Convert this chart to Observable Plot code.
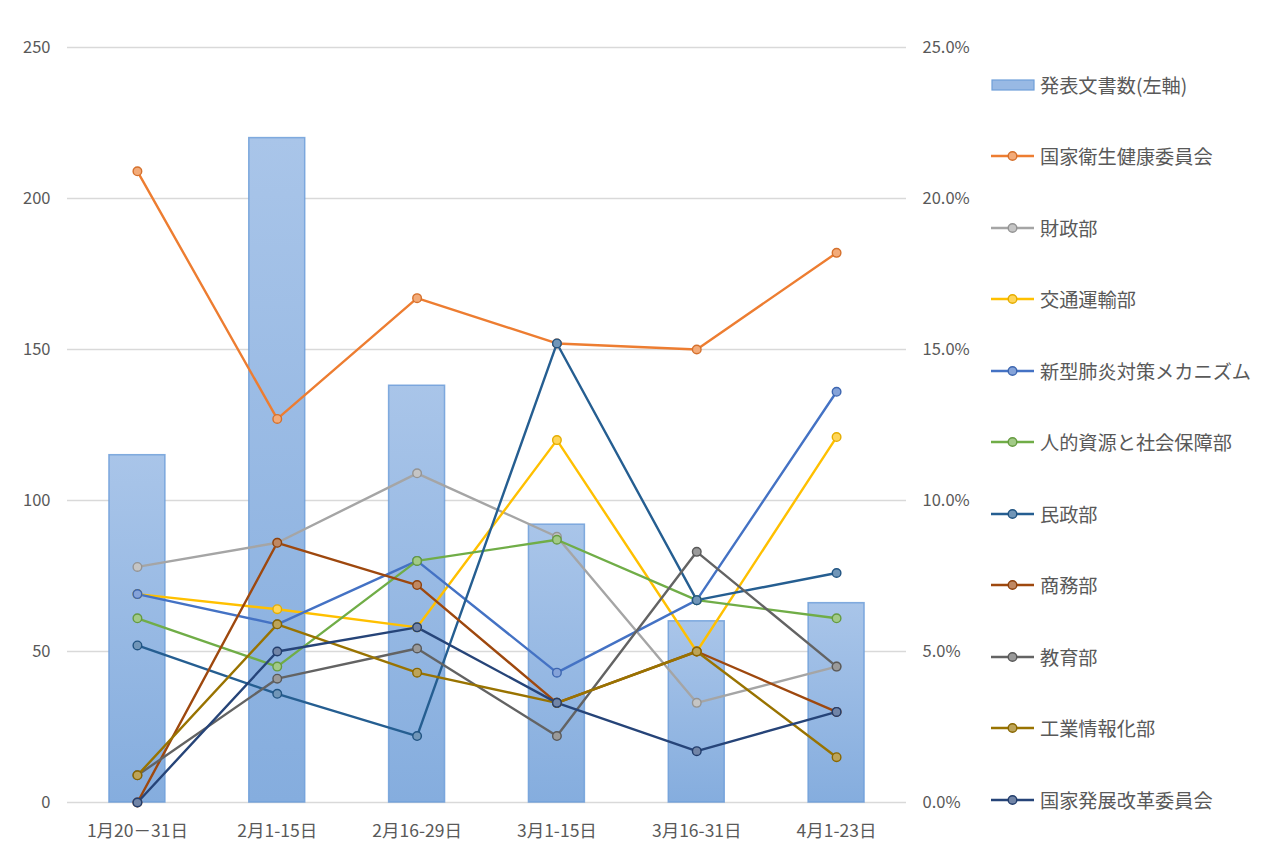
<!DOCTYPE html>
<html>
<head>
<meta charset="utf-8">
<script src="https://cdn.jsdelivr.net/npm/d3@7"></script>
<script src="https://cdn.jsdelivr.net/npm/@observablehq/plot@0.6"></script>
<style>
  html, body { margin: 0; padding: 0; background: #fff; }
  #wrap { position: relative; width: 1275px; height: 856px; font-family: "Noto Sans CJK JP", "Noto Sans", sans-serif; }
  #legend { position: absolute; left: 991px; top: 49px; }
  .item { height: 71.5px; display: flex; align-items: center; color: #595959; font-size: 19.2px; white-space: nowrap; }
  .item svg { margin-right: 5px; flex: none; }
</style>
</head>
<body>
<div id="wrap"><div id="chart"></div><div id="legend"></div></div>
<script>
// ---- Data ----
const categories = ["1月20－31日", "2月1-15日", "2月16-29日", "3月1-15日", "3月16-31日", "4月1-23日"];
const barLabel = "発表文書数(左軸)";
const docCounts = [115, 220, 138, 92, 60, 66];

const seriesNames = [
  "国家衛生健康委員会", "財政部", "交通運輸部", "新型肺炎対策メカニズム", "人的資源と社会保障部",
  "民政部", "商務部", "教育部", "工業情報化部", "国家発展改革委員会"
];
const seriesColors = ["#ED7D31", "#A5A5A5", "#FFC000", "#4472C4", "#70AD47",
  "#255E91", "#9E480E", "#636363", "#997300", "#264478"];

// share of documents (%) per period
const nhc       = [20.9, 12.7, 16.7, 15.2, 15.0, 18.2];
const mof       = [7.8, 8.6, 10.9, 8.8, 3.3, 4.5];
const mot       = [6.9, 6.4, 5.8, 12.0, 5.0, 12.1];
const mechanism = [6.9, 5.9, 8.0, 4.3, 6.7, 13.6];
const mohrss    = [6.1, 4.5, 8.0, 8.7, 6.7, 6.1];
const moca      = [5.2, 3.6, 2.2, 15.2, 6.7, 7.6];
const mofcom    = [0, 8.6, 7.2, 3.3, 5.0, 3.0];
const moe       = [0.9, 4.1, 5.1, 2.2, 8.3, 4.5];
const miit      = [0.9, 5.9, 4.3, 3.3, 5.0, 1.5];
const ndrc      = [0, 5.0, 5.8, 3.3, 1.7, 3.0];
const seriesValues = [nhc, mof, mot, mechanism, mohrss, moca, mofcom, moe, miit, ndrc];

const leftTicks = [0, 50, 100, 150, 200, 250];
const rightTicks = [0, 5, 10, 15, 20, 25];

// ---- Build tables ----
const bars = categories.map((c, i) => ({category: c, count: docCounts[i]}));
const lineRows = [];
seriesNames.forEach((name, s) => {
  seriesValues[s].forEach((v, i) => lineRows.push({series: name, category: categories[i], pct: v, yv: v * 10, color: seriesColors[s]}));
});
const lighten = c => d3.interpolateRgb(c, "#fff")(0.35);

const defsMark = () => {
  const defs = document.createElementNS("http://www.w3.org/2000/svg", "defs");
  defs.innerHTML = `<linearGradient id="barGrad" x1="0" y1="0" x2="0" y2="1">
    <stop offset="0" stop-color="#A9C5E9"/><stop offset="1" stop-color="#85ADDE"/></linearGradient>`;
  return defs;
};

const chart = Plot.plot({
  width: 980,
  height: 856,
  marginLeft: 67,
  marginRight: 74,
  marginTop: 47,
  marginBottom: 54,
  style: {fontFamily: "'Noto Sans CJK JP', 'Noto Sans', sans-serif", fontSize: "16px", color: "#595959", background: "#fff"},
  x: {domain: categories, paddingInner: 0.6, paddingOuter: 0.3, round: false, label: null},
  y: {domain: [0, 250], label: null},
  marks: [
    defsMark,
    Plot.ruleY(leftTicks, {stroke: "#D9D9D9", strokeWidth: 1.3}),
    Plot.barY(bars, {x: "category", y: "count", fill: "url(#barGrad)", stroke: "#6E9FD9", strokeWidth: 1.5, strokeOpacity: 0.85}),
    ...seriesNames.map((name, s) => Plot.line(lineRows.filter(d => d.series === name), {
      x: "category", y: "yv", stroke: seriesColors[s], strokeWidth: 2.4
    })),
    ...seriesNames.map((name, s) => Plot.dot(lineRows.filter(d => d.series === name), {
      x: "category", y: "yv", r: 4.3, fill: lighten(seriesColors[s]), stroke: d3.color(seriesColors[s]).darker(0.3).formatHex(), strokeWidth: 1.4
    })),
    Plot.axisY(leftTicks, {anchor: "left", tickSize: 0, tickPadding: 17, label: null, fontSize: 16.5, fill: "#595959"}),
    Plot.axisY(rightTicks.map(d => d * 10), {anchor: "right", tickSize: 0, tickPadding: 16, label: null, tickFormat: d => (d / 10).toFixed(1) + "%", fontSize: 16.5, fill: "#595959"}),
    Plot.axisX({tickSize: 0, tickPadding: 22, label: null, fontSize: 17.5, fill: "#595959"})
  ]
});
document.getElementById("chart").appendChild(chart);

// ---- Legend ----
const legend = document.getElementById("legend");
const legendEntries = [{name: barLabel, bar: true}].concat(seriesNames.map((n, s) => ({name: n, color: seriesColors[s]})));
legendEntries.forEach(e => {
  const item = document.createElement("div");
  item.className = "item";
  const sw = e.bar
    ? `<svg width="44" height="14"><rect x="1" y="2" width="42" height="10" fill="#98B9E4" stroke="#6E9FD9" stroke-width="1.2"/></svg>`
    : `<svg width="44" height="14"><line x1="0" y1="7" x2="43" y2="7" stroke="${e.color}" stroke-width="2.4"/><circle cx="21.5" cy="7" r="4.3" fill="${lighten(e.color)}" stroke="${d3.color(e.color).darker(0.3).formatHex()}" stroke-width="1.4"/></svg>`;
  item.innerHTML = sw + `<span>${e.name}</span>`;
  legend.appendChild(item);
});
</script>
</body>
</html>
